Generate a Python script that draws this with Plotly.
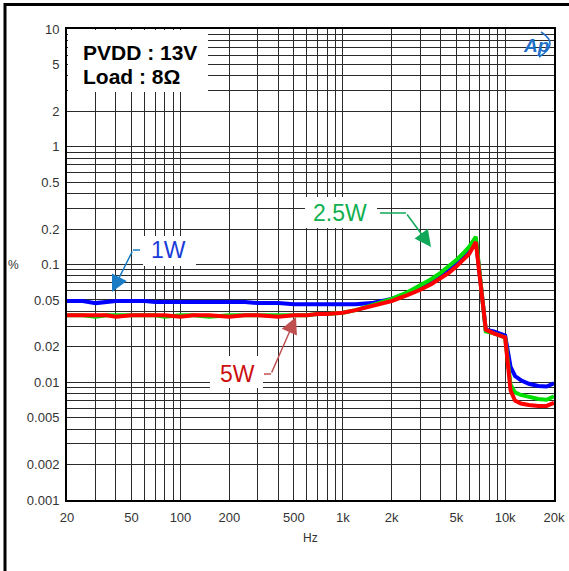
import plotly.graph_objects as go

# ---------------- data ----------------
freq = [20, 25, 30, 35, 40, 50, 60, 70, 80, 100, 120, 150, 200, 250, 300, 400, 500,
        600, 700, 800, 1000, 1200, 1500, 2000, 2500, 3000, 3500, 4000, 4500, 5000,
        5500, 6000, 6600, 7600, 8500, 10000, 10800, 11500, 12500, 14000, 16000,
        18000, 20000]

thd_1w = [0.049, 0.049, 0.047, 0.048, 0.049, 0.049, 0.049, 0.048, 0.048, 0.048,
          0.048, 0.048, 0.048, 0.048, 0.047, 0.047, 0.046, 0.046, 0.046, 0.046,
          0.046, 0.046, 0.047, 0.051, 0.057, 0.064, 0.072, 0.081, 0.091, 0.103,
          0.117, 0.133, 0.163, 0.028, 0.027, 0.025, 0.0135, 0.0113, 0.0104,
          0.0097, 0.0093, 0.0092, 0.0098]

thd_2w5 = [0.037, 0.037, 0.036, 0.037, 0.037, 0.037, 0.037, 0.037, 0.036, 0.037,
           0.037, 0.036, 0.037, 0.037, 0.037, 0.037, 0.037, 0.037, 0.038, 0.038,
           0.039, 0.041, 0.045, 0.051, 0.058, 0.066, 0.075, 0.085, 0.096, 0.109,
           0.124, 0.141, 0.172, 0.027, 0.026, 0.024, 0.0095, 0.0082, 0.0078,
           0.0075, 0.0072, 0.0071, 0.0076]

thd_5w = [0.037, 0.037, 0.037, 0.037, 0.036, 0.037, 0.037, 0.037, 0.037, 0.036,
          0.037, 0.037, 0.036, 0.037, 0.037, 0.036, 0.037, 0.037, 0.038, 0.038,
          0.039, 0.041, 0.044, 0.049, 0.055, 0.061, 0.068, 0.076, 0.085, 0.096,
          0.108, 0.123, 0.155, 0.028, 0.026, 0.024, 0.0085, 0.0070, 0.0066,
          0.0064, 0.0063, 0.0063, 0.0067]

x_grid = [20, 30, 40, 50, 60, 70, 80, 90, 100, 200, 300, 400, 500, 600, 700, 800, 900,
          1000, 2000, 3000, 4000, 5000, 6000, 7000, 8000, 9000, 10000, 20000]
x_labels = {20: "20", 50: "50", 100: "100", 200: "200", 500: "500", 1000: "1k",
            2000: "2k", 5000: "5k", 10000: "10k", 20000: "20k"}

y_grid = [m * 10 ** e for e in (-3, -2, -1, 0) for m in range(1, 10)] + [10]
y_labels = {0.001: "0.001", 0.002: "0.002", 0.005: "0.005", 0.01: "0.01",
            0.02: "0.02", 0.05: "0.05", 0.1: "0.1", 0.2: "0.2", 0.5: "0.5",
            1: "1", 2: "2", 5: "5", 10: "10"}

# ---------------- geometry helpers (pixel -> paper) ----------------
W, H = 569, 571
L, R, T, B = 67, 15, 29, 71
PW, PH = W - L - R, H - T - B


def px(x):
    return (x - L) / PW


def py(y):
    return (H - B - y) / PH


fig = go.Figure()

for name, vals, col in [("1W", thd_1w, "#0000ff"),
                        ("2.5W", thd_2w5, "#00e000"),
                        ("5W", thd_5w, "#ff0000")]:
    fig.add_trace(go.Scatter(x=freq, y=vals, mode="lines", name=name,
                             line=dict(color=col, width=4), showlegend=False))

tickfont = dict(family="Liberation Sans Narrow, Arial Narrow, Liberation Sans, Arial",
                size=13, color="#333333")


def fmt_y(v):
    for k, s in y_labels.items():
        if abs(k - v) / k < 1e-6:
            return s
    return ""


fig.update_xaxes(type="log", range=[1.30103, 4.30103], tickvals=x_grid,
                 ticktext=[x_labels.get(v, "") for v in x_grid],
                 showgrid=True, gridcolor="#2a2a2a", gridwidth=1,
                 showline=True, linecolor="black", linewidth=2, mirror=True,
                 ticks="", tickfont=tickfont, zeroline=False,
                 ticklabelstandoff=4, automargin=False)
fig.update_yaxes(type="log", range=[-3, 1], tickvals=y_grid,
                 ticktext=[fmt_y(v) for v in y_grid],
                 showgrid=True, gridcolor="#2a2a2a", gridwidth=1,
                 showline=True, linecolor="black", linewidth=2, mirror=True,
                 ticks="", tickfont=tickfont, zeroline=False,
                 ticklabelstandoff=3, automargin=False)

shapes = []
# white boxes behind the labels
for (x0, y0, x1, y1) in [(68, 30, 208, 92), (143, 236, 196, 266),
                         (305, 197, 377, 228), (210, 356, 263, 388)]:
    shapes.append(dict(type="rect", xref="paper", yref="paper",
                       x0=px(x0), y0=py(y1), x1=px(x1), y1=py(y0),
                       line=dict(width=0), fillcolor="white", layer="above"))
# outer frame
shapes.append(dict(type="rect", xref="paper", yref="paper",
                   x0=px(5), y0=py(600), x1=px(620), y1=py(4.5),
                   line=dict(color="black", width=3), fillcolor="rgba(0,0,0,0)",
                   layer="above"))
# arrow tails (horizontal parts)
shapes.append(dict(type="line", xref="paper", yref="paper", x0=px(140), y0=py(250),
                   x1=px(133), y1=py(250), line=dict(color="#1a7cc4", width=1.5)))
shapes.append(dict(type="line", xref="paper", yref="paper", x0=px(380), y0=py(213),
                   x1=px(406), y1=py(213), line=dict(color="#10a858", width=1.5)))
shapes.append(dict(type="line", xref="paper", yref="paper", x0=px(264), y0=py(374),
                   x1=px(271), y1=py(374), line=dict(color="#c05050", width=1.5)))
# Ap logo arc
shapes.append(dict(type="path", xref="paper", yref="paper",
                   path="M %f %f Q %f %f %f %f" % (px(541), py(32), px(560), py(44),
                                                   px(539), py(57)),
                   line=dict(color="#2070c8", width=1.5)))
fig.update_layout(shapes=shapes)

ann = []
textfont = "Liberation Sans, Arial"


def label(x, y, text, font, **kw):
    d = dict(xref="paper", yref="paper", x=px(x), y=py(y), xanchor="center",
             yanchor="middle", showarrow=False, text=text, font=font)
    d.update(kw)
    ann.append(d)


label(81, 52, "<b>PVDD : 13V</b>", dict(family=textfont, size=21, color="black"),
      xanchor="left")
label(81, 77, "<b>Load : 8Ω</b>", dict(family=textfont, size=21, color="black"),
      xanchor="left")
label(168, 250, "1W", dict(family=textfont, size=23, color="#1a3cd8"))
label(340, 213, "2.5W", dict(family=textfont, size=23, color="#10b050"))
label(237, 374, "5W", dict(family=textfont, size=23, color="#cc1010"))
label(13, 265, "%", dict(family=tickfont["family"], size=12, color="#333"))
label(310, 538, "Hz", dict(family=tickfont["family"], size=12, color="#333"))
label(536, 45, "<b><i>Ap</i></b>", dict(family=textfont, size=19, color="#2070c8"))

# arrows (diagonal parts, head at tip)
for (tx, ty, sx, sy, c) in [(112, 292, 133, 250, "#1a7cc4"),
                            (431, 247, 406, 213, "#10a858"),
                            (296, 317, 271, 374, "#c05050")]:
    ann.append(dict(xref="paper", yref="paper", x=px(tx), y=py(ty),
                    ax=sx - tx, ay=sy - ty, axref="pixel", ayref="pixel",
                    text="", showarrow=True, arrowhead=2, arrowsize=2.2,
                    arrowwidth=1.5, arrowcolor=c))
fig.update_layout(annotations=ann)

fig.update_layout(width=W, height=H, margin=dict(l=L, r=R, t=T, b=B),
                  paper_bgcolor="white", plot_bgcolor="white", autosize=False)

fig.write_html("out.html", config={"responsive": False, "displayModeBar": False},
               post_script="document.body.style.margin='0';"
                           "document.body.style.overflow='hidden';")
